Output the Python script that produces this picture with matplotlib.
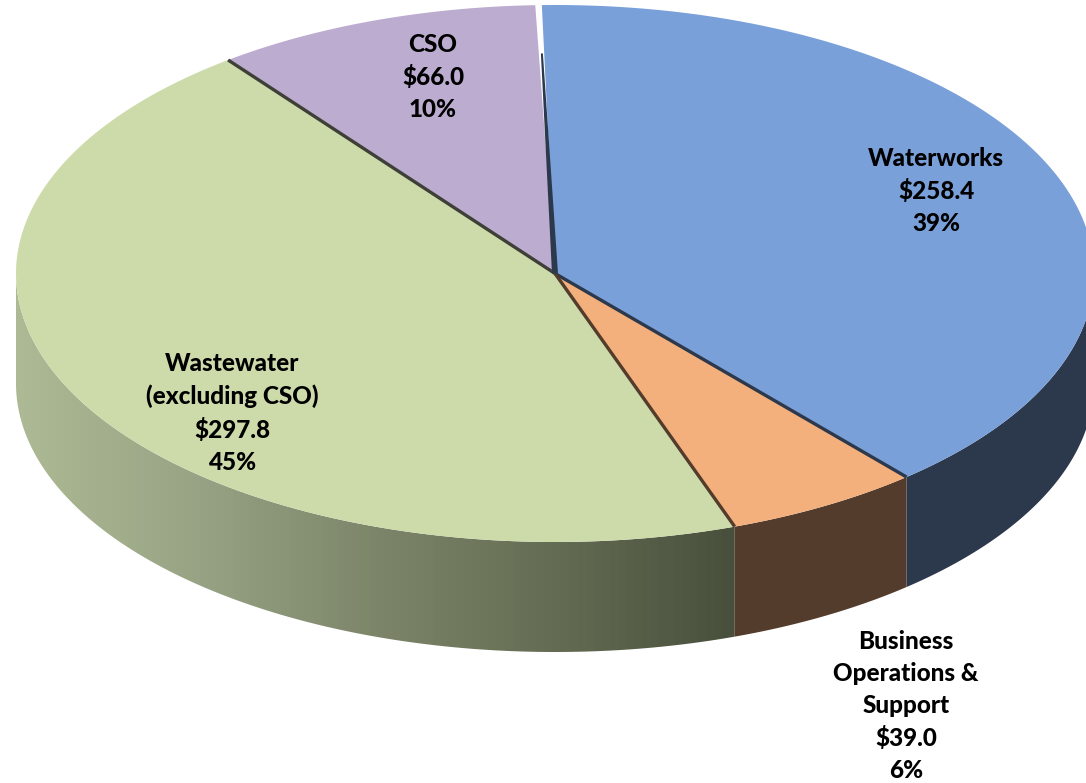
import numpy as np
import matplotlib
matplotlib.use("Agg")
import matplotlib.pyplot as plt
from matplotlib.colors import LinearSegmentedColormap
from matplotlib.patches import Polygon

names = ["Waterworks", "Business\nOperations &\nSupport", "Wastewater\n(excluding CSO)", "CSO"]
values = [258.4, 39.0, 297.8, 66.0]
shares = ["39%", "6%", "45%", "10%"]
top_colors = ["#7AA0D9", "#F4B07C", "#CDDBAB", "#BCACD0"]
side_colors = ["#2C384C", "#533C2B", None, None]
edge_colors = ["#2C384C", "#533C2B", "#3E4038", "#3A3A4C"]
label_xy = [(936, 191), (906, 706), (232, 413), (433, 77)]

# pie geometry in image pixels
cx, cy = 555, 273.5
rx, ry = 539, 268.5
depth = 110
start = -1.4


def rim(t, drop=0):
    t = np.radians(t)
    return cx + rx * np.sin(t), cy - ry * np.cos(t) + drop


def arc(t0, t1, drop=0):
    t = np.linspace(t0, t1, 200)
    x, y = rim(t, drop)
    return np.column_stack([x, y])


def wall(t0, t1):
    return np.vstack([arc(t0, t1), arc(t0, t1, depth)[::-1]])


fig = plt.figure(figsize=(10.86, 7.83), dpi=100)
ax = fig.add_axes([0, 0, 1, 1])

edges = start + np.concatenate([[0], np.cumsum(values)]) / sum(values) * 360

# side walls first
ax.add_patch(Polygon(wall(90, edges[1]), fc=side_colors[0], ec="none", zorder=1))

green_wall = Polygon(wall(edges[2], 270), fc="none", ec="none", zorder=1)
ax.add_patch(green_wall)
shade = LinearSegmentedColormap.from_list("shade", ["#ADB994", "#97A384", "#7C8569", "#646C53", "#484F3C"])
img = ax.imshow(np.linspace(0, 1, 90).reshape(1, -1), cmap=shade, aspect="auto",
                extent=(16, 738, 660, 270), zorder=1, interpolation="nearest")
img.set_clip_path(green_wall)

ax.add_patch(Polygon(wall(edges[1], edges[2]), fc=side_colors[1], ec="none", zorder=2))

# top faces
for i in range(4):
    t0, t1 = edges[i], edges[i + 1]
    if i == 3:
        t1 -= 0.7
    pts = np.vstack([[cx, cy], arc(t0, t1)])
    ax.add_patch(Polygon(pts, fc=top_colors[i], ec="none", zorder=3))

# dark seams between the slices
for i, t in enumerate([edges[1], edges[2], edges[3]]):
    x, y = rim(t)
    ax.plot([cx, x], [cy, y], color=edge_colors[i], lw=2.4, zorder=4, solid_capstyle="butt")
x, y = rim(start - 0.3)
xm, ym = cx + (x - cx) * 0.82, cy + (y - cy) * 0.82
ax.add_patch(Polygon([[cx - 3, cy], [cx + 3, cy], [xm + 1, ym], [xm - 1, ym]], fc=edge_colors[0], ec="none", zorder=4))

for i in range(4):
    label = f"{names[i]}\n${values[i]:.1f}\n{shares[i]}"
    ax.text(label_xy[i][0], label_xy[i][1], label, ha="center", va="center",
            fontsize=17.5, fontweight=900, family="Lato", color="black",
            linespacing=1.48, zorder=5)

ax.set_xlim(0, 1086)
ax.set_ylim(783, 0)
ax.axis("off")
fig.savefig("out.png", dpi=100, facecolor="white")
